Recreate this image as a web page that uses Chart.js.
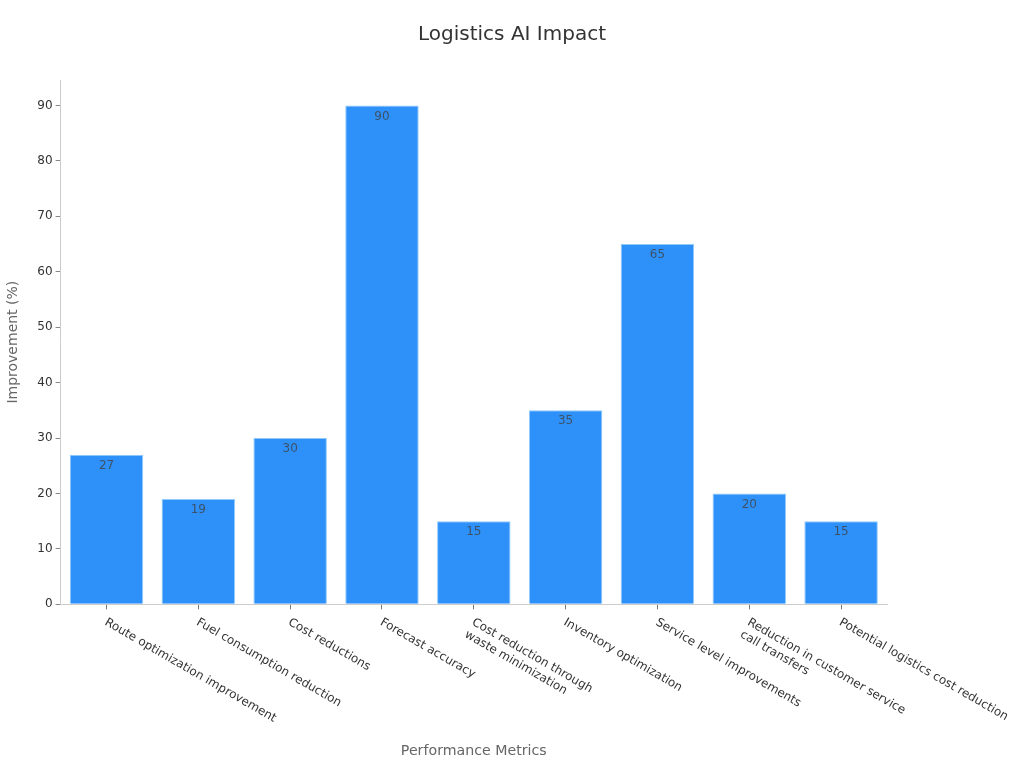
<!DOCTYPE html>
<html>
<head>
<meta charset="utf-8">
<style>html,body{margin:0;padding:0;background:#fff}canvas{display:block}</style>
<script src="https://cdn.jsdelivr.net/npm/chart.js@4"></script>
</head>
<body>
<canvas id="c" width="1024" height="768" style="width:1024px;height:768px"></canvas>
<script>
const categories = [
  "Route optimization improvement",
  "Fuel consumption reduction",
  "Cost reductions",
  "Forecast accuracy",
  ["Cost reduction through", "waste minimization"],
  "Inventory optimization",
  "Service level improvements",
  ["Reduction in customer service", "call transfers"],
  "Potential logistics cost reduction"
];
const improvement = [27, 19, 30, 90, 15, 35, 65, 20, 15];
const chartTitle = "Logistics AI Impact";
const xTitle = "Performance Metrics";
const yTitle = "Improvement (%)";
const yMax = 94.6;

const FONT = "'DejaVu Sans', sans-serif";

const valueLabels = {
  id: 'valueLabels',
  afterDatasetsDraw(chart) {
    const ctx = chart.ctx;
    const meta = chart.getDatasetMeta(0);
    ctx.save();
    ctx.font = "12px " + FONT;
    ctx.fillStyle = "#3d5268";
    ctx.textAlign = "center";
    ctx.textBaseline = "middle";
    meta.data.forEach((bar, i) => {
      ctx.fillText(String(improvement[i]), bar.x, bar.y + 11);
    });
    ctx.restore();
  }
};

new Chart(document.getElementById('c'), {
  type: 'bar',
  plugins: [valueLabels],
  data: {
    labels: categories,
    datasets: [{
      data: improvement,
      backgroundColor: '#2e91fa',
      borderColor: '#90caf9',
      borderWidth: 1,
      barPercentage: 0.8,
      categoryPercentage: 1
    }]
  },
  options: {
    responsive: false,
    animation: false,
    layout: { padding: 0 },
    plugins: {
      legend: { display: false },
      tooltip: { enabled: false },
      title: {
        display: true,
        text: chartTitle,
        color: '#333333',
        font: { family: FONT, size: 20, weight: 'normal' },
        padding: { top: 23, bottom: 33 }
      }
    },
    scales: {
      x: {
        offset: true,
        grid: { display: true, drawOnChartArea: false, color: '#777777', tickLength: 5, offset: false },
        border: { color: '#cccccc', width: 1 },
        ticks: {
          color: '#333333',
          font: { family: FONT, size: 11.9 },
          minRotation: -30,
          maxRotation: -30,
          autoSkip: false,
          padding: 6,
          labelOffset: -1
        },
        title: {
          display: true,
          text: xTitle,
          color: '#666666',
          font: { family: FONT, size: 14.2, weight: 'normal' },
          padding: { top: 0, bottom: 8 }
        },
        beforeUpdate(scale) {
          scale._getXAxisLabelAlignment = () => 'left';
        },
        afterFit(scale) {
          scale.height = 163.7;
          scale.paddingLeft = 0;
          scale.paddingRight = 137;
        }
      },
      y: {
        min: 0,
        max: yMax,
        grid: { display: true, drawOnChartArea: false, color: '#888888', tickLength: 5 },
        border: { color: '#cccccc', width: 1 },
        ticks: {
          stepSize: 10,
          includeBounds: false,
          color: '#333333',
          font: { family: FONT, size: 12 },
          padding: 3
        },
        title: {
          display: true,
          text: yTitle,
          color: '#666666',
          font: { family: FONT, size: 14, weight: 'normal' },
          padding: { top: 5, bottom: 0 }
        },
        afterFit(scale) { scale.width = 60.6; }
      }
    }
  }
});
</script>
</body>
</html>
